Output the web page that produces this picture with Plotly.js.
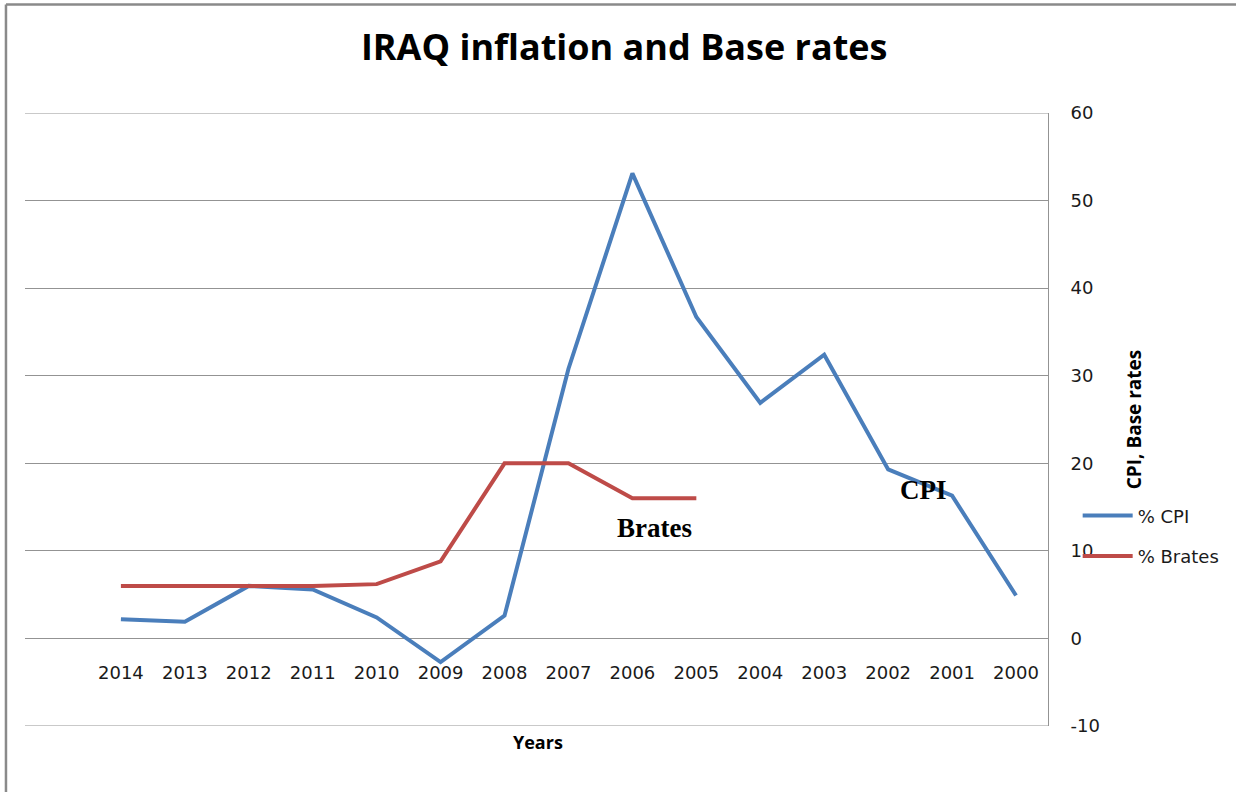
<!DOCTYPE html>
<html>
<head>
<meta charset="utf-8">
<script src="https://cdn.plot.ly/plotly-3.0.1.min.js"></script>
<style>
  html, body { margin: 0; padding: 0; background: #ffffff; }
  #chart { width: 1236px; height: 792px; }
</style>
</head>
<body>
<div id="chart"></div>
<script>
// Years shown on the category axis (newest first, as in the series tables)
const years = ['2014', '2013', '2012', '2011', '2010', '2009', '2008', '2007',
               '2006', '2005', '2004', '2003', '2002', '2001', '2000'];

// Consumer price inflation, %
const cpi = [2.2, 1.9, 6.0, 5.6, 2.4, -2.7, 2.6, 30.8, 53.1, 36.7, 26.9, 32.4, 19.3, 16.3, 4.9];

// Central bank base rate, % (no data before 2005)
const brates = [6.0, 6.0, 6.0, 6.0, 6.2, 8.8, 20.0, 20.0, 16.0, 16.0, null, null, null, null, null];

// Value axis ticks (plain hyphen for negatives)
const yTickVals = [-10, 0, 10, 20, 30, 40, 50, 60];
const yTickText = ['-10', '0', '10', '20', '30', '40', '50', '60'];

const blue = '#4a7ebb';
const red = '#be4b48';
const grid = '#939393';

const traces = [
  {
    x: years, y: cpi, name: '% CPI', type: 'scatter', mode: 'lines',
    line: { color: blue, width: 4 }, legendgroup: 'a'
  },
  {
    x: years, y: brates, name: '% Brates', type: 'scatter', mode: 'lines',
    line: { color: red, width: 4 }, connectgaps: false, legendgroup: 'b'
  }
];

const yMin = yTickVals[0];
const yMax = yTickVals[yTickVals.length - 1];

const layout = {
  width: 1236, height: 792,
  margin: { l: 25, r: 187, t: 113, b: 66 },
  paper_bgcolor: '#ffffff', plot_bgcolor: '#ffffff',
  font: { family: 'DejaVu Sans', size: 18, color: '#1a1a1a' },
  title: {
    text: 'IRAQ inflation and Base rates',
    font: { family: 'Open Sans', size: 36, color: '#000000', weight: 'bold' },
    x: 0.505, xanchor: 'center', y: 0.94, yanchor: 'middle'
  },
  showlegend: true,
  legend: {
    x: 1.028, xanchor: 'left', y: 0.373, yanchor: 'top',
    font: { family: 'DejaVu Sans', size: 18, color: '#1a1a1a' },
    traceorder: 'grouped', tracegroupgap: 14, itemwidth: 50,
    bgcolor: 'rgba(0,0,0,0)'
  },
  xaxis: {
    type: 'category', range: [-1.5, 14.5],
    anchor: 'free', position: 0.108,
    showgrid: false, showline: false, zeroline: false, ticks: '',
    tickfont: { family: 'DejaVu Sans', size: 18, color: '#1a1a1a' },
    fixedrange: true
  },
  yaxis: {
    side: 'right', range: [yMin, yMax],
    tickmode: 'array', tickvals: yTickVals, ticktext: yTickText,
    showgrid: true, gridcolor: grid, gridwidth: 1,
    zeroline: false, showline: true, linecolor: grid, linewidth: 1,
    ticks: '', ticklabelstandoff: 18,
    tickfont: { family: 'DejaVu Sans', size: 18, color: '#1a1a1a' },
    title: {
      text: 'CPI, Base rates', standoff: 28,
      font: { family: 'Open Sans', size: 19, color: '#000000', weight: 'bold' }
    },
    automargin: false
  },
  annotations: [
    {
      text: 'Years', xref: 'paper', yref: 'paper', x: 0.501, y: -0.026,
      xanchor: 'center', yanchor: 'middle', showarrow: false,
      font: { family: 'Open Sans', size: 18, color: '#000000', weight: 'bold' }
    },
    {
      text: 'CPI', xref: 'x', yref: 'y', x: 12.56, y: 16.9,
      xanchor: 'center', yanchor: 'middle', showarrow: false,
      font: { family: 'Liberation Serif', size: 27, color: '#000000', weight: 'bold' }
    },
    {
      text: 'Brates', xref: 'x', yref: 'y', x: 8.34, y: 12.6,
      xanchor: 'center', yanchor: 'middle', showarrow: false,
      font: { family: 'Liberation Serif', size: 27, color: '#000000', weight: 'bold' }
    }
  ],
  shapes: [
    // outer gridlines at the top and bottom of the value range
    { type: 'line', xref: 'paper', yref: 'y', x0: 0, x1: 1, y0: yMax, y1: yMax,
      line: { color: grid, width: 1 }, layer: 'below' },
    { type: 'line', xref: 'paper', yref: 'y', x0: 0, x1: 1, y0: yMin, y1: yMin,
      line: { color: grid, width: 1 }, layer: 'below' },
    // chart frame (top and left edges)
    { type: 'line', xref: 'paper', yref: 'paper', x0: -0.0186, x1: 1.2, y0: 1.177, y1: 1.177,
      line: { color: '#8a8a8a', width: 2.5 } },
    { type: 'line', xref: 'paper', yref: 'paper', x0: -0.0186, x1: -0.0186, y0: 1.177, y1: -0.12,
      line: { color: '#8a8a8a', width: 2.5 } }
  ]
};

Plotly.newPlot('chart', traces, layout, { displayModeBar: false, staticPlot: true });
</script>
</body>
</html>
